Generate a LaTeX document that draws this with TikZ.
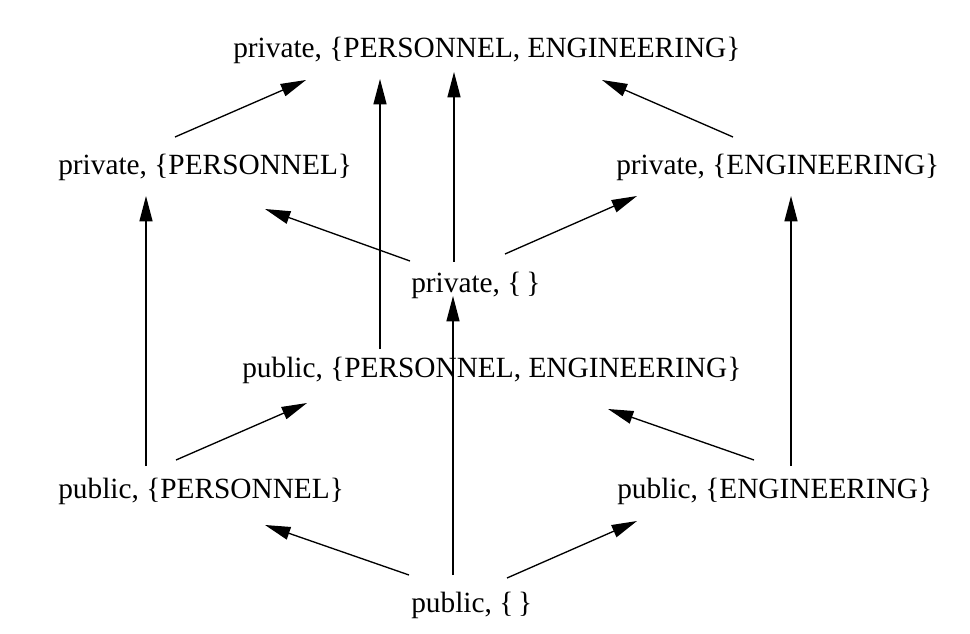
\documentclass[tikz,border=0pt]{standalone}
\usepackage{fontspec}
\setmainfont{Liberation Serif}
\usetikzlibrary{arrows.meta,calc}
\tikzset{
  lbl/.style={anchor=base west, inner sep=0pt, font=\fontsize{22pt}{26pt}\selectfont},
  arr/.style={line width=1pt, -{Triangle[length=19pt,width=9.75pt]}}
}
\begin{document}
\begin{tikzpicture}[x=0.75pt,y=-0.75pt]
\useasboundingbox (0,0) rectangle (970,634);
\node[lbl] (top) at (233,58) {private, \{PERSONNEL, ENGINEERING\}};
\node[lbl] (PL)  at (58,175) {private, \{PERSONNEL\}};
\node[lbl] (PE)  at (616,175) {private, \{ENGINEERING\}};
\node[lbl] (P0)  at (411,293) {private, \{\,\}};
\node[lbl] (PUB) at (242,378) {public, \{PERSONNEL, ENGINEERING\}};
\node[lbl] (UL)  at (58,498) {public, \{PERSONNEL\}};
\node[lbl] (UE)  at (617,498) {public, \{ENGINEERING\}};
\node[lbl] (U0)  at (411,612) {public, \{\,\}};

\draw[arr] ($(PL.base west)+(117,-38)$) -- ($(top.base west)+(73,22)$);
\draw[arr] ($(PUB.base west)+(138,-29)$) -- ($(top.base west)+(147,21)$);
\draw[arr] ($(P0.base west)+(43,-31)$) -- ($(top.base west)+(221,14)$);
\draw[arr] ($(PE.base west)+(117,-38)$) -- ($(top.base west)+(369,22)$);
\draw[arr] ($(P0.base west)+(-1,-32)$) -- ($(PL.base west)+(207,34)$);
\draw[arr] ($(P0.base west)+(94,-39)$) -- ($(PE.base west)+(21,21)$);
\draw[arr] ($(UL.base west)+(88,-32)$) -- ($(PL.base west)+(88,21)$);
\draw[arr] ($(UE.base west)+(174,-32)$) -- ($(PE.base west)+(175,21)$);
\draw[arr] ($(U0.base west)+(42,-37)$) -- ($(P0.base west)+(42,3)$);
\draw[arr] ($(UL.base west)+(118,-38)$) -- ($(PUB.base west)+(65,25)$);
\draw[arr] ($(UE.base west)+(137,-38)$) -- ($(PUB.base west)+(366,31)$);
\draw[arr] ($(U0.base west)+(-2,-37)$) -- ($(UL.base west)+(207,27)$);
\draw[arr] ($(U0.base west)+(96,-34)$) -- ($(UE.base west)+(20,23)$);
\end{tikzpicture}
\end{document}
